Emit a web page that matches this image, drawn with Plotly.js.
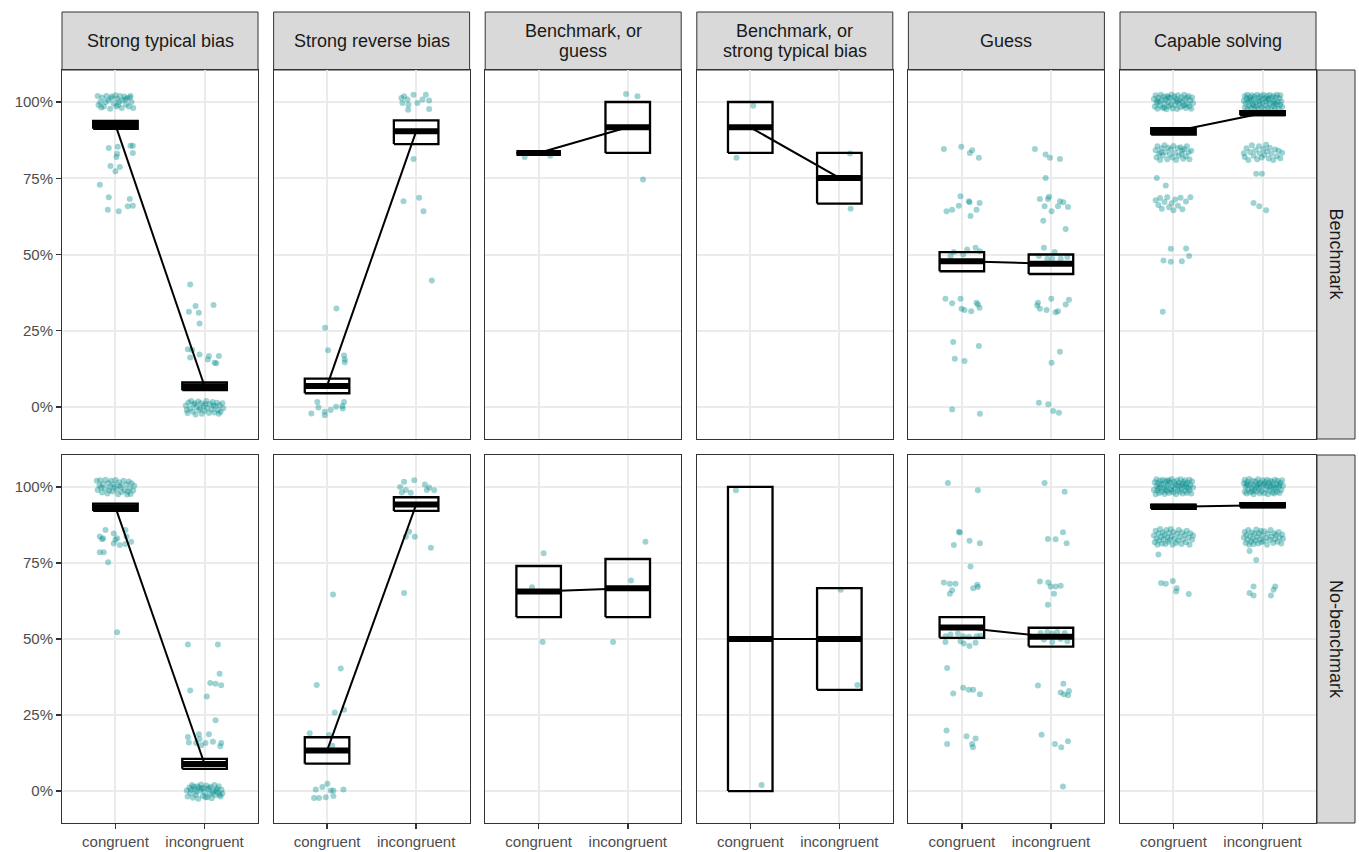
<!DOCTYPE html>
<html><head><meta charset="utf-8">
<script src="https://cdn.plot.ly/plotly-3.0.1.min.js"></script>
<style>html,body{margin:0;padding:0;background:#fff}#chart{width:1359px;height:852px}</style>
</head><body><div id="chart"></div>
<script>
// ---------------- DATA ----------------
const facetLabels = ["Strong typical bias", "Strong reverse bias", "Benchmark, or\nguess", "Benchmark, or\nstrong typical bias", "Guess", "Capable solving"];
const rowLabels = ["Benchmark", "No-benchmark"];
const conditions = ["congruent", "incongruent"];
const yTickVals = [0, 0.25, 0.5, 0.75, 1];
const yTickText = ["0%", "25%", "50%", "75%", "100%"];

// crossbar summaries: [congruent, incongruent] for each facet
const meanBench = [[0.925, 0.068], [0.069, 0.904], [0.833, 0.917], [0.917, 0.751], [0.478, 0.470], [0.903, 0.963]];
const loBench   = [[0.912, 0.055], [0.045, 0.862], [0.833, 0.833], [0.833, 0.667], [0.445, 0.436], [0.893, 0.957]];
const hiBench   = [[0.938, 0.081], [0.093, 0.940], [0.833, 1.000], [1.000, 0.833], [0.508, 0.500], [0.914, 0.970]];
const meanNoBench = [[0.933, 0.089], [0.133, 0.942], [0.656, 0.667], [0.500, 0.500], [0.538, 0.507], [0.935, 0.940]];
const loNoBench   = [[0.921, 0.073], [0.090, 0.921], [0.572, 0.572], [0.000, 0.333], [0.504, 0.475], [0.928, 0.933]];
const hiNoBench   = [[0.945, 0.106], [0.177, 0.966], [0.740, 0.763], [1.000, 0.667], [0.572, 0.537], [0.942, 0.947]];

// individual (jittered) observations: [jitter, value]
const typB_con = [[-0.2,1.02],[-0.17,1.0],[-0.15,1.015],[-0.13,0.985],[-0.1,1.02],[-0.08,1.005],[-0.06,0.978],[-0.04,1.018],[-0.02,0.995],[0.0,1.022],[0.02,1.01],[0.03,0.99],[0.05,1.02],[0.07,0.98],[0.08,1.005],[0.1,1.018],[0.12,0.992],[0.13,1.012],[0.15,0.985],[0.17,1.02],[0.18,1.0],[0.2,0.98],[-0.19,0.99],[-0.11,1.0],[0.04,1.0],[0.11,1.008],[-0.05,1.012],[0.16,1.015],[-0.16,0.982],[0.01,0.985],
  [-0.075,0.849],[0.026,0.853],[0.019,0.83],[0.011,0.82],[0.169,0.857],[0.195,0.857],[0.195,0.833],[-0.056,0.79],[0.0,0.773],[0.049,0.787],[-0.176,0.729],[-0.075,0.688],[-0.086,0.647],[0.037,0.642],[0.161,0.682],[0.139,0.658],[0.195,0.66]];
const typB_inc = [[-0.21,0.005],[-0.19,-0.02],[-0.18,0.015],[-0.16,-0.005],[-0.15,0.02],[-0.13,-0.015],[-0.12,0.008],[-0.1,-0.025],[-0.09,0.0],[-0.07,0.018],[-0.06,-0.01],[-0.04,0.012],[-0.03,-0.022],[-0.01,0.004],[0.0,-0.012],[0.02,0.02],[0.03,-0.003],[0.05,-0.02],[0.06,0.01],[0.08,-0.008],[0.09,0.016],[0.11,-0.018],[0.12,0.002],[0.14,0.014],[0.15,-0.01],[0.17,0.006],[0.18,-0.016],[0.2,0.012],[0.21,-0.004],[-0.2,-0.01],[-0.11,0.012],[0.01,0.01],[0.1,0.005],[-0.05,-0.004],[0.16,-0.022],
  [-0.161,0.402],[-0.176,0.312],[-0.101,0.331],[-0.064,0.309],[-0.056,0.274],[0.101,0.334],[-0.187,0.189],[-0.139,0.187],[-0.161,0.162],[-0.056,0.172],[0.049,0.167],[0.037,0.156],[0.112,0.145],[0.131,0.143],[0.161,0.167]];
const revB_con = [[0.105,0.323],[-0.022,0.26],[0.011,0.186],[0.191,0.169],[0.199,0.156],[0.199,0.147],[-0.109,0.016],[-0.097,-0.002],[-0.176,-0.021],[-0.026,-0.016],[-0.026,-0.027],[0.041,-0.01],[0.101,0.001],[0.176,-0.005],[0.191,0.016],[0.172,0.003]];
const revB_inc = [[-0.165,1.013],[-0.135,1.019],[-0.03,1.024],[0.109,1.024],[0.071,1.008],[0.015,0.997],[-0.086,0.991],[-0.09,0.975],[-0.154,0.997],[0.146,1.005],[0.146,0.977],[-0.097,1.008],[-0.03,0.813],[-0.142,0.675],[0.034,0.686],[0.082,0.642],[0.176,0.415]];
const bgB_con = [[-0.157,0.82],[0.131,0.824]];
const bgB_inc = [[-0.019,1.026],[0.109,1.019],[0.172,0.746]];
const btB_con = [[0.034,0.988],[-0.154,0.817]];
const btB_inc = [[0.12,0.831],[0.127,0.65]];
const gB_con = [[-0.202,0.846],[-0.007,0.853],[0.09,0.833],[0.116,0.842],[0.191,0.817],[-0.015,0.691],[0.079,0.675],[0.086,0.671],[0.199,0.669],[-0.034,0.66],[-0.109,0.647],[-0.172,0.642],[0.165,0.647],[0.097,0.626],[-0.127,0.495],[0.015,0.5],[-0.09,0.508],[0.154,0.522],[0.202,0.511],[0.06,0.516],[-0.184,0.355],[-0.109,0.34],[-0.015,0.355],[-0.004,0.322],[0.03,0.318],[0.105,0.314],[0.165,0.342],[0.199,0.325],[0.18,0.336],[-0.097,0.213],[0.191,0.2],[-0.079,0.158],[0.03,0.151],[-0.109,-0.008],[0.202,-0.022]];
const gB_inc = [[-0.18,0.846],[-0.06,0.828],[-0.011,0.817],[0.101,0.813],[-0.06,0.751],[-0.124,0.682],[-0.022,0.689],[-0.034,0.682],[0.101,0.675],[0.139,0.671],[-0.071,0.658],[0.079,0.658],[0.191,0.656],[0.007,0.642],[-0.086,0.611],[0.165,0.584],[-0.079,0.522],[0.041,0.508],[-0.041,0.486],[0.015,0.486],[0.109,0.486],[0.184,0.492],[-0.135,0.495],[-0.146,0.342],[-0.154,0.333],[0.004,0.355],[-0.049,0.318],[-0.124,0.322],[0.052,0.311],[0.079,0.314],[0.165,0.336],[0.202,0.352],[0.101,0.181],[0.007,0.145],[-0.135,0.014],[-0.03,0.009],[0.026,-0.013],[0.09,-0.019]];
const csB_con = [[-0.22,1.01],[-0.21,0.985],[-0.2,1.022],[-0.19,0.998],[-0.18,0.978],[-0.17,1.015],[-0.16,1.0],[-0.15,0.988],[-0.14,1.024],[-0.13,1.006],[-0.12,0.98],[-0.11,1.017],[-0.1,0.994],[-0.09,1.008],[-0.08,0.976],[-0.07,1.02],[-0.06,1.0],[-0.05,0.986],[-0.04,1.013],[-0.03,0.992],[-0.02,1.025],[-0.01,0.979],[0.0,1.004],[0.01,1.018],[0.02,0.99],[0.03,1.01],[0.04,0.977],[0.05,1.022],[0.06,0.996],[0.07,1.006],[0.08,0.983],[0.09,1.016],[0.1,1.0],[0.11,0.988],[0.12,1.024],[0.13,1.008],[0.14,0.98],[0.15,1.014],[0.16,0.994],[0.17,1.02],[0.18,0.985],[0.19,1.005],[0.2,0.978],[0.21,1.015],[0.22,0.996],[-0.18,1.004],[-0.06,1.016],[0.04,1.002],[0.13,0.99],[-0.1,0.982],
  [-0.2,0.842],[-0.19,0.818],[-0.18,0.855],[-0.16,0.83],[-0.15,0.81],[-0.13,0.848],[-0.12,0.825],[-0.1,0.858],[-0.09,0.836],[-0.07,0.812],[-0.06,0.85],[-0.04,0.828],[-0.03,0.845],[-0.01,0.818],[0.0,0.856],[0.02,0.834],[0.03,0.81],[0.05,0.848],[0.06,0.824],[0.08,0.852],[0.09,0.83],[0.11,0.814],[0.12,0.846],[0.14,0.822],[0.15,0.855],[0.17,0.835],[0.18,0.812],[0.2,0.84],[-0.14,0.835],[0.1,0.84],
  [-0.187,0.751],[-0.086,0.726],
  [-0.2,0.678],[-0.17,0.662],[-0.15,0.685],[-0.13,0.65],[-0.1,0.672],[-0.07,0.688],[-0.05,0.655],[-0.02,0.668],[0.0,0.645],[0.02,0.68],[0.05,0.66],[0.08,0.686],[0.1,0.648],[0.14,0.674],[0.19,0.688],
  [-0.03,0.519],[0.142,0.52],[-0.112,0.48],[-0.03,0.476],[0.094,0.478],[0.176,0.495],[-0.12,0.312]];
const csB_inc = [[-0.21,1.004],[-0.2,0.982],[-0.2,1.02],[-0.19,0.995],[-0.18,1.012],[-0.17,0.977],[-0.17,1.024],[-0.16,1.0],[-0.15,0.988],[-0.14,1.016],[-0.13,0.98],[-0.13,1.006],[-0.12,1.022],[-0.11,0.992],[-0.1,1.01],[-0.09,0.976],[-0.09,1.018],[-0.08,0.998],[-0.07,0.985],[-0.06,1.024],[-0.05,1.004],[-0.05,0.979],[-0.04,1.014],[-0.03,0.99],[-0.02,1.02],[-0.01,0.983],[0.0,1.008],[0.0,0.995],[0.01,1.024],[0.02,0.976],[0.03,1.012],[0.04,0.99],[0.04,1.002],[0.05,1.02],[0.06,0.981],[0.07,1.008],[0.08,0.994],[0.08,1.023],[0.09,0.978],[0.1,1.014],[0.11,0.998],[0.12,0.986],[0.12,1.02],[0.13,1.004],[0.14,0.98],[0.15,1.016],[0.16,0.992],[0.16,1.024],[0.17,1.0],[0.18,0.978],[0.19,1.012],[0.2,0.99],[0.2,1.022],[0.21,1.002],[0.22,0.984],[-0.15,1.008],[-0.03,1.002],[0.06,1.01],[0.14,0.996],[-0.1,0.99],
  [-0.2,0.82],[-0.18,0.848],[-0.16,0.81],[-0.14,0.836],[-0.12,0.858],[-0.1,0.824],[-0.08,0.842],[-0.06,0.812],[-0.04,0.855],[-0.03,0.832],[-0.01,0.818],[0.01,0.846],[0.02,0.826],[0.04,0.86],[0.05,0.838],[0.07,0.815],[0.08,0.85],[0.1,0.83],[0.12,0.81],[0.14,0.844],[0.16,0.822],[0.18,0.84],[0.2,0.816],[0.22,0.834],[-0.21,0.832],
  [-0.071,0.765],[-0.007,0.765],[-0.101,0.669],[-0.037,0.658],[0.041,0.645]];

const typN_con = [[-0.21,1.02],[-0.2,0.99],[-0.18,1.005],[-0.17,1.022],[-0.15,0.982],[-0.14,1.01],[-0.12,0.995],[-0.11,1.024],[-0.09,0.978],[-0.08,1.012],[-0.06,1.0],[-0.05,1.02],[-0.03,0.985],[-0.02,1.008],[0.0,1.023],[0.01,0.992],[0.03,0.976],[0.04,1.015],[0.06,1.0],[0.07,0.983],[0.09,1.02],[0.1,0.99],[0.12,1.008],[0.13,0.975],[0.15,1.018],[0.16,0.996],[0.17,0.977],[0.18,1.012],[0.2,0.988],[0.21,1.004],[-0.16,0.998],[-0.07,0.988],[0.05,1.005],[0.14,0.985],[-0.01,1.0],
  [-0.112,0.858],[-0.176,0.837],[-0.139,0.831],[-0.019,0.847],[0.0,0.826],[0.112,0.858],[0.124,0.837],[0.176,0.82],[-0.019,0.814],[0.049,0.809],[0.112,0.812],[0.019,0.831],[-0.15,0.828],[-0.176,0.785],[-0.131,0.785],[-0.082,0.752],[0.019,0.522]];
const typN_inc = [[-0.2,0.002],[-0.19,-0.018],[-0.17,0.012],[-0.16,-0.006],[-0.14,0.02],[-0.13,-0.022],[-0.11,0.006],[-0.1,-0.012],[-0.08,0.016],[-0.07,-0.025],[-0.05,0.003],[-0.04,0.022],[-0.02,-0.015],[-0.01,0.01],[0.0,-0.004],[0.02,0.018],[0.03,-0.02],[0.04,0.006],[0.06,-0.01],[0.07,0.014],[0.08,-0.024],[0.1,0.001],[0.11,0.02],[0.12,-0.014],[0.14,0.008],[0.15,-0.005],[0.16,0.016],[0.18,-0.018],[0.19,0.004],[0.2,-0.008],[-0.15,0.004],[-0.09,-0.003],[-0.03,0.008],[0.05,0.01],[0.09,-0.006],[0.13,0.002],[0.17,-0.012],[-0.12,0.014],[0.01,-0.02],[-0.06,0.012],
  [-0.187,0.482],[0.15,0.482],[-0.161,0.331],[0.026,0.311],[0.064,0.355],[0.124,0.353],[0.169,0.386],[0.187,0.348],[0.124,0.233],[-0.187,0.178],[-0.064,0.187],[0.049,0.187],[-0.176,0.16],[-0.094,0.158],[-0.037,0.151],[0.011,0.158],[0.094,0.162],[0.187,0.158],[0.176,0.147],[-0.056,0.171]];
const revN_con = [[0.067,0.646],[0.154,0.403],[-0.116,0.349],[0.086,0.258],[0.191,0.267],[-0.195,0.19],[0.022,0.184],[0.06,0.149],[-0.127,0.005],[-0.052,0.013],[0.004,0.024],[0.071,0.002],[0.041,0.002],[0.184,0.005],[-0.146,-0.023],[-0.09,-0.023],[-0.015,-0.02],[0.071,-0.016]];
const revN_inc = [[-0.18,1.0],[-0.135,1.017],[-0.022,1.022],[0.097,1.008],[0.146,0.998],[0.202,0.989],[-0.06,0.981],[-0.161,0.982],[-0.116,0.99],[0.12,0.99],[-0.116,0.836],[-0.015,0.836],[-0.079,0.853],[0.165,0.8],[-0.135,0.651]];
const bgN_con = [[0.056,0.782],[-0.075,0.67],[0.045,0.49]];
const bgN_inc = [[0.199,0.82],[0.037,0.692],[-0.165,0.49]];
const btN_con = [[-0.161,0.989],[0.127,0.02]];
const btN_inc = [[0.015,0.662],[0.202,0.349]];
const gN_con = [[-0.157,1.013],[0.18,0.989],[-0.034,0.853],[-0.022,0.85],[0.086,0.823],[0.202,0.815],[-0.09,0.809],[0.097,0.738],[-0.202,0.686],[-0.135,0.682],[-0.071,0.682],[0.127,0.667],[0.172,0.678],[0.18,0.671],[-0.109,0.66],[-0.135,0.649],[-0.184,0.509],[-0.127,0.515],[-0.045,0.518],[0.015,0.509],[0.079,0.507],[0.165,0.509],[0.21,0.511],[-0.184,0.49],[-0.015,0.493],[0.022,0.485],[0.086,0.477],[0.154,0.488],[-0.165,0.405],[0.015,0.34],[0.079,0.333],[0.127,0.333],[0.202,0.318],[-0.097,0.321],[-0.172,0.199],[-0.165,0.155],[0.052,0.18],[0.154,0.173],[0.116,0.155],[0.124,0.144]];
const gN_inc = [[-0.071,1.013],[0.154,0.984],[0.135,0.851],[-0.034,0.829],[0.052,0.828],[0.176,0.815],[-0.124,0.689],[-0.03,0.686],[-0.004,0.673],[0.052,0.673],[0.109,0.675],[0.034,0.649],[-0.034,0.613],[-0.116,0.52],[-0.041,0.523],[0.015,0.518],[0.071,0.523],[0.154,0.52],[-0.079,0.498],[0.015,0.49],[0.109,0.5],[0.184,0.493],[-0.146,0.347],[0.139,0.353],[0.109,0.324],[0.202,0.329],[0.191,0.315],[0.146,0.318],[-0.105,0.185],[0.045,0.155],[0.116,0.144],[0.191,0.164],[0.135,0.015]];
const csN_con = [[-0.22,0.99],[-0.21,1.015],[-0.2,0.976],[-0.19,1.004],[-0.19,1.025],[-0.18,0.988],[-0.17,1.012],[-0.16,0.98],[-0.15,1.02],[-0.15,0.998],[-0.14,1.008],[-0.13,0.984],[-0.12,1.024],[-0.11,0.994],[-0.11,1.01],[-0.1,0.977],[-0.09,1.018],[-0.08,1.0],[-0.07,0.986],[-0.07,1.022],[-0.06,1.006],[-0.05,0.98],[-0.04,1.014],[-0.03,0.992],[-0.02,1.026],[-0.01,1.002],[0.0,0.982],[0.01,1.016],[0.02,0.996],[0.02,1.008],[0.03,0.976],[0.04,1.022],[0.05,0.99],[0.06,1.012],[0.07,0.984],[0.08,1.004],[0.08,1.025],[0.09,0.994],[0.1,0.978],[0.11,1.016],[0.12,1.0],[0.13,0.986],[0.13,1.022],[0.14,1.008],[0.15,0.98],[0.16,1.014],[0.17,0.996],[0.18,1.024],[0.18,0.988],[0.19,1.006],[0.2,0.978],[0.21,1.018],[0.22,0.998],[-0.17,0.996],[-0.02,0.988],[0.05,1.004],[0.15,1.0],[-0.09,0.99],[0.1,1.01],[-0.05,1.02],
  [-0.22,0.84],[-0.21,0.818],[-0.2,0.856],[-0.19,0.83],[-0.18,0.81],[-0.17,0.846],[-0.16,0.824],[-0.15,0.862],[-0.14,0.836],[-0.13,0.814],[-0.12,0.85],[-0.11,0.828],[-0.1,0.842],[-0.09,0.812],[-0.08,0.858],[-0.07,0.834],[-0.06,0.82],[-0.05,0.848],[-0.04,0.826],[-0.03,0.862],[-0.02,0.838],[-0.01,0.81],[0.0,0.852],[0.01,0.83],[0.03,0.816],[0.04,0.846],[0.05,0.824],[0.06,0.858],[0.07,0.836],[0.09,0.812],[0.1,0.85],[0.11,0.828],[0.13,0.842],[0.14,0.818],[0.15,0.856],[0.17,0.834],[0.18,0.81],[0.19,0.848],[0.21,0.826],[0.22,0.84],
  [-0.169,0.778],[-0.139,0.684],[-0.086,0.682],[-0.007,0.691],[0.037,0.667],[0.03,0.656],[0.172,0.648]];
const csN_inc = [[-0.21,1.012],[-0.2,0.984],[-0.2,1.024],[-0.19,1.0],[-0.18,0.978],[-0.17,1.016],[-0.16,0.992],[-0.16,1.006],[-0.15,1.026],[-0.14,0.982],[-0.13,1.01],[-0.12,0.996],[-0.11,1.02],[-0.1,0.976],[-0.1,1.004],[-0.09,0.99],[-0.08,1.018],[-0.07,0.984],[-0.06,1.008],[-0.05,1.025],[-0.04,0.994],[-0.03,0.978],[-0.03,1.014],[-0.02,1.0],[-0.01,0.986],[0.0,1.022],[0.01,1.006],[0.02,0.98],[0.03,1.016],[0.04,0.992],[0.05,1.024],[0.05,1.002],[0.06,0.976],[0.07,1.012],[0.08,0.988],[0.09,1.02],[0.1,0.998],[0.11,0.982],[0.11,1.016],[0.12,1.006],[0.13,0.978],[0.14,1.024],[0.15,0.994],[0.16,1.01],[0.16,0.984],[0.17,1.02],[0.18,1.0],[0.19,0.98],[0.2,1.014],[0.21,0.99],[0.22,1.022],[0.23,1.004],[-0.18,1.008],[-0.07,1.0],[0.02,1.01],[0.13,0.998],[-0.12,0.986],[0.08,1.004],[0.19,1.006],[-0.04,1.01],
  [-0.21,0.834],[-0.2,0.852],[-0.19,0.816],[-0.18,0.842],[-0.17,0.826],[-0.16,0.858],[-0.15,0.81],[-0.14,0.838],[-0.13,0.82],[-0.12,0.85],[-0.11,0.83],[-0.1,0.812],[-0.09,0.846],[-0.08,0.824],[-0.07,0.86],[-0.06,0.836],[-0.05,0.814],[-0.04,0.848],[-0.03,0.828],[-0.02,0.856],[-0.01,0.818],[0.0,0.84],[0.01,0.822],[0.02,0.854],[0.04,0.832],[0.05,0.81],[0.06,0.846],[0.08,0.826],[0.09,0.858],[0.1,0.836],[0.12,0.816],[0.13,0.848],[0.14,0.828],[0.15,0.842],[0.17,0.82],[0.18,0.852],[0.19,0.834],[0.21,0.814],[0.22,0.844],[0.23,0.83],
  [-0.146,0.789],[-0.071,0.76],[-0.101,0.673],[-0.146,0.651],[-0.101,0.643],[0.142,0.673],[0.124,0.662],[0.094,0.643]];

// ---------------- DRAWING ----------------
const pointSets = [
  [[typB_con, typB_inc], [revB_con, revB_inc], [bgB_con, bgB_inc], [btB_con, btB_inc], [gB_con, gB_inc], [csB_con, csB_inc]],
  [[typN_con, typN_inc], [revN_con, revN_inc], [bgN_con, bgN_inc], [btN_con, btN_inc], [gN_con, gN_inc], [csN_con, csN_inc]]
];
const means = [meanBench, meanNoBench], los = [loBench, loNoBench], his = [hiBench, hiNoBench];

const W = 1359, H = 852;
const panelLeft0 = 62, panelStep = 211.6, panelW = 196;
const rowTop = [70, 455], rowBot = [439, 823];
const stripTop = 12, stripRight0 = 1317, stripRight1 = 1355;
const halfW = 0.25;
const FONT = "Liberation Sans, Arial, Helvetica, sans-serif";

const traces = [];
const layout = {
  width: W, height: H, showlegend: false, hovermode: false,
  paper_bgcolor: "#ffffff", plot_bgcolor: "#ffffff",
  margin: {l: 0, r: 0, t: 0, b: 0, pad: 0, autoexpand: false},
  font: {family: FONT, color: "#4D4D4D"},
  shapes: [], annotations: []
};
const px2x = p => p / W, px2y = p => 1 - p / H;

for (let r = 0; r < 2; r++) {
  for (let c = 0; c < 6; c++) {
    const k = r * 6 + c + 1;
    const sx = k === 1 ? "" : String(k);
    const xa = "x" + sx, ya = "y" + sx;
    const left = panelLeft0 + c * panelStep;
    layout["xaxis" + sx] = {
      domain: [px2x(left), px2x(left + panelW)], range: [0.4, 2.6], anchor: ya,
      tickmode: "array", tickvals: [1, 2], ticktext: conditions,
      showticklabels: r === 1, ticks: r === 1 ? "outside" : "", ticklen: 5, tickwidth: 1.5, tickcolor: "#333333",
      tickfont: {size: 15, color: "#4D4D4D", family: FONT},
      showgrid: true, gridcolor: "#EBEBEB", gridwidth: 2, zeroline: false,
      showline: true, mirror: true, linecolor: "#333333", linewidth: 1, fixedrange: true
    };
    layout["yaxis" + sx] = {
      domain: [px2y(rowBot[r]), px2y(rowTop[r])], range: [-0.105, 1.105], anchor: xa,
      tickmode: "array", tickvals: yTickVals, ticktext: yTickText,
      showticklabels: c === 0, ticks: c === 0 ? "outside" : "", ticklen: 5, tickwidth: 1.5, tickcolor: "#333333",
      tickfont: {size: 15, color: "#4D4D4D", family: FONT},
      showgrid: true, gridcolor: "#EBEBEB", gridwidth: 2, zeroline: false,
      showline: true, mirror: true, linecolor: "#333333", linewidth: 1, fixedrange: true
    };

    // jittered points
    const xs = [], ys = [];
    pointSets[r][c].forEach((arr, i) => arr.forEach(p => { xs.push(i + 1 + p[0]); ys.push(p[1]); }));
    traces.push({type: "scatter", mode: "markers", x: xs, y: ys, xaxis: xa, yaxis: ya,
      marker: {size: 6, color: "rgba(0,139,139,0.38)", line: {width: 0}}, hoverinfo: "skip"});

    // crossbars
    const m = means[r][c], lo = los[r][c], hi = his[r][c];
    for (let i = 0; i < 2; i++) {
      const xc = i + 1;
      traces.push({type: "scatter", mode: "lines", xaxis: xa, yaxis: ya, hoverinfo: "skip",
        x: [xc - halfW, xc + halfW, xc + halfW, xc - halfW, xc - halfW],
        y: [lo[i], lo[i], hi[i], hi[i], lo[i]],
        line: {color: "#000000", width: 2.3}});
      traces.push({type: "scatter", mode: "lines", xaxis: xa, yaxis: ya, hoverinfo: "skip",
        x: [xc - halfW, xc + halfW], y: [m[i], m[i]],
        line: {color: "#000000", width: 6}});
    }
    // line joining the means
    traces.push({type: "scatter", mode: "lines", xaxis: xa, yaxis: ya, hoverinfo: "skip",
      x: [1, 2], y: [m[0], m[1]], line: {color: "#000000", width: 2}});
  }
}

// column strips
for (let c = 0; c < 6; c++) {
  const left = panelLeft0 + c * panelStep;
  layout.shapes.push({type: "rect", xref: "paper", yref: "paper",
    x0: px2x(left), x1: px2x(left + panelW), y0: px2y(rowTop[0]), y1: px2y(stripTop),
    fillcolor: "#D9D9D9", line: {color: "#333333", width: 1}, layer: "below"});
  const lines = facetLabels[c].split("\n");
  const mid = (stripTop + rowTop[0]) / 2, gap = 20;
  lines.forEach((t, j) => {
    const yc = mid + (j - (lines.length - 1) / 2) * gap;
    layout.annotations.push({xref: "paper", yref: "paper", x: px2x(left + panelW / 2), y: px2y(yc),
      xanchor: "center", yanchor: "middle", showarrow: false, text: t,
      font: {size: 18, color: "#1A1A1A", family: FONT}});
  });
}
// row strips
for (let r = 0; r < 2; r++) {
  layout.shapes.push({type: "rect", xref: "paper", yref: "paper",
    x0: px2x(stripRight0), x1: px2x(stripRight1), y0: px2y(rowBot[r]), y1: px2y(rowTop[r]),
    fillcolor: "#D9D9D9", line: {color: "#333333", width: 1}, layer: "below"});
  layout.annotations.push({xref: "paper", yref: "paper",
    x: px2x((stripRight0 + stripRight1) / 2), y: px2y((rowTop[r] + rowBot[r]) / 2),
    xanchor: "center", yanchor: "middle", showarrow: false, text: rowLabels[r], textangle: 90,
    font: {size: 18, color: "#1A1A1A", family: FONT}});
}

Plotly.newPlot("chart", traces, layout, {displayModeBar: false, staticPlot: true});
</script>
</body></html>
